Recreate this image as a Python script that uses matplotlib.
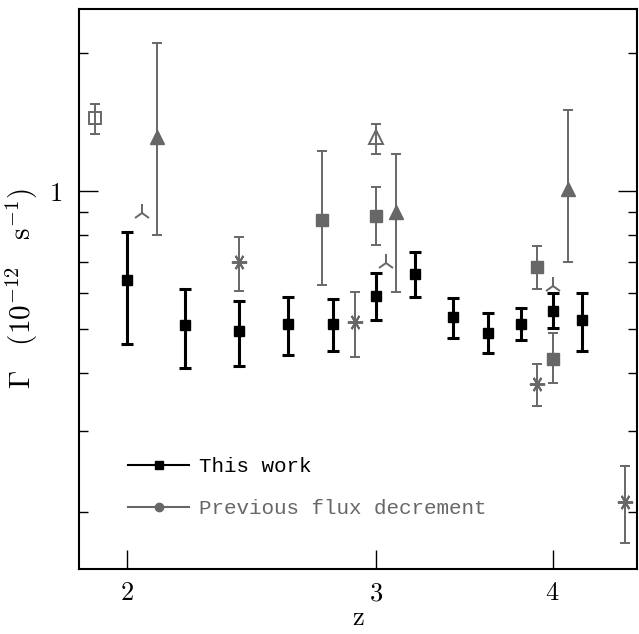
import matplotlib
matplotlib.use("Agg")
import matplotlib.pyplot as plt
from matplotlib.lines import Line2D
from matplotlib.ticker import FixedLocator, NullFormatter, FixedFormatter
import numpy as np

plt.rcParams['mathtext.fontset'] = 'cm'

# ---- This work ----
work_z = [2.0, 2.2, 2.4, 2.6, 2.8, 3.0, 3.2, 3.4, 3.6, 3.8, 4.0, 4.2]
work_g = [0.640, 0.511, 0.495, 0.513, 0.513, 0.590, 0.660, 0.531, 0.490, 0.513, 0.548, 0.524]
work_lo = [0.464, 0.411, 0.416, 0.439, 0.448, 0.522, 0.587, 0.478, 0.443, 0.472, 0.502, 0.448]
work_hi = [0.815, 0.611, 0.575, 0.587, 0.582, 0.663, 0.737, 0.585, 0.542, 0.556, 0.599, 0.600]

# ---- Previous flux decrement measurements ----
sqo_z = [1.9]
sqo_g = [1.44]
sqo_lo = [1.329]
sqo_hi = [1.549]

trif_z = [2.1, 3.1, 4.1]
trif_g = [1.309, 0.901, 1.009]
trif_lo = [0.802, 0.601, 0.699]
trif_hi = [2.098, 1.202, 1.501]

trio_z = [3.0]
trio_g = [1.309]
trio_lo = [1.202]
trio_hi = [1.400]

triup_z = [2.05, 3.05, 4.0]
triup_g = [0.896, 0.696, 0.619]

ast_z = [2.4, 2.9, 3.9, 4.5]
ast_g = [0.699, 0.519, 0.380, 0.210]
ast_lo = [0.604, 0.435, 0.340, 0.171]
ast_hi = [0.794, 0.603, 0.420, 0.251]

sqf_z = [2.75, 3.0, 3.9, 4.0]
sqf_g = [0.863, 0.882, 0.681, 0.431]
sqf_lo = [0.622, 0.761, 0.611, 0.381]
sqf_hi = [1.220, 1.020, 0.760, 0.490]

x_ticks = [2, 3, 4]
x_ticklabels = ['$2$', '$3$', '$4$']
y_major = [1.0]
y_minor = [0.2, 0.3, 0.4, 0.5, 0.6, 0.7, 0.8, 0.9, 2.0]

GRAY = '#676767'

fig = plt.figure(figsize=(6.39, 6.34), dpi=100)
ax = fig.add_axes([79/639, 65/634, 558/639, 560/634])
ax.set_xscale('log')
ax.set_yscale('log')


def yerr(g, lo, hi):
    g = np.asarray(g); lo = np.asarray(lo); hi = np.asarray(hi)
    return [g - lo, hi - g]


# This work
ax.errorbar(work_z, work_g, yerr=yerr(work_g, work_lo, work_hi), fmt='s', color='black',
            ms=7, elinewidth=2.2, capsize=4, capthick=2.2, zorder=5)

ekw = dict(color=GRAY, elinewidth=1.4, capsize=3.8, capthick=1.4, zorder=3)
ax.errorbar(sqo_z, sqo_g, yerr=yerr(sqo_g, sqo_lo, sqo_hi), fmt='s', ms=8,
            mfc='none', mec=GRAY, mew=1.4, **ekw)
ax.errorbar(trif_z, trif_g, yerr=yerr(trif_g, trif_lo, trif_hi), fmt='^', ms=10,
            mfc=GRAY, mec=GRAY, **ekw)
ax.errorbar(trio_z, trio_g, yerr=yerr(trio_g, trio_lo, trio_hi), fmt='^', ms=10,
            mfc='none', mec=GRAY, mew=1.4, **ekw)
ax.errorbar(ast_z, ast_g, yerr=yerr(ast_g, ast_lo, ast_hi), fmt='none', **ekw)
ax.plot(ast_z, ast_g, linestyle='none', marker=(6, 2, 30), ms=11, mec=GRAY, mew=1.4, zorder=4)
ax.errorbar(sqf_z, sqf_g, yerr=yerr(sqf_g, sqf_lo, sqf_hi), fmt='s', ms=8.5,
            mfc=GRAY, mec=GRAY, **ekw)
ax.plot(triup_z, triup_g, linestyle='none', marker='2', ms=13, mec=GRAY, mew=1.4, zorder=4)

ax.set_xlim(1.85, 4.59)
ax.set_ylim(0.15, 2.49)

ax.xaxis.set_major_locator(FixedLocator(x_ticks))
ax.xaxis.set_major_formatter(FixedFormatter(x_ticklabels))
ax.xaxis.set_minor_locator(FixedLocator([]))
ax.xaxis.set_minor_formatter(NullFormatter())
ax.yaxis.set_major_locator(FixedLocator(y_major))
ax.yaxis.set_major_formatter(FixedFormatter(['$1$']))
ax.yaxis.set_minor_locator(FixedLocator(y_minor))
ax.yaxis.set_minor_formatter(NullFormatter())

ax.tick_params(axis='x', which='major', direction='in', length=14, width=1.0,
               labelsize=19, pad=8, top=False, bottom=True)
ax.tick_params(axis='y', which='major', direction='in', length=13.5, width=1.0,
               labelsize=19, pad=12, left=True, right=True)
ax.tick_params(axis='y', which='minor', direction='in', length=6.5, width=1.0,
               left=True, right=True)
for sp in ax.spines.values():
    sp.set_linewidth(1.5)

ax.set_xlabel('$\\mathrm{z}$', fontsize=19, labelpad=-1)
ax.set_ylabel('$\\Gamma\\ \\ \\ (10^{-12}\\ \\ \\ \\mathrm{s}^{-1})$', fontsize=21, labelpad=0)
ax.yaxis.set_label_coords(-0.07, 0.5)

handles = [
    Line2D([], [], color='black', lw=1.5, marker='s', ms=6),
    Line2D([], [], color=GRAY, lw=1.5, marker='o', ms=6),
]
leg = ax.legend(handles, ['This work', 'Previous flux decrement'], loc='lower left',
                bbox_to_anchor=(0.055, 0.057), frameon=False, handlelength=2.9,
                handletextpad=0.5, labelspacing=1.1,
                prop={'family': 'Liberation Mono', 'size': 15})
leg.get_texts()[0].set_color('black')
leg.get_texts()[1].set_color(GRAY)

fig.savefig('out.png', dpi=100)
